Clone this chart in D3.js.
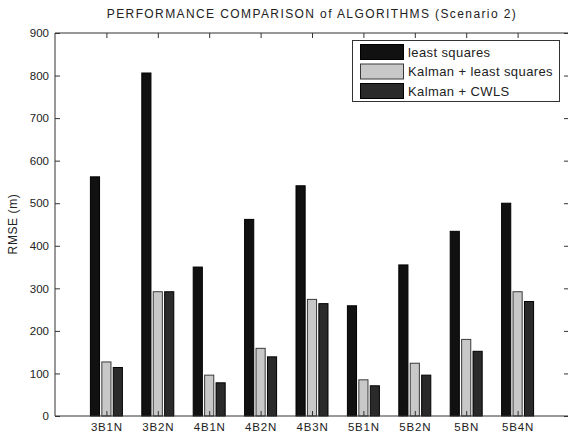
<!DOCTYPE html>
<html>
<head>
<meta charset="utf-8">
<script src="https://cdn.jsdelivr.net/npm/d3@7"></script>
<style>
  html, body { margin: 0; padding: 0; background: #fff; }
  svg text { font-family: "Liberation Sans", Arial, sans-serif; fill: #222; }
</style>
</head>
<body>
<svg id="chart" width="568" height="434"></svg>
<script>
// RMSE per configuration for each positioning algorithm
const categories = ["3B1N", "3B2N", "4B1N", "4B2N", "4B3N", "5B1N", "5B2N", "5BN", "5B4N"];
const leastSquares = [562, 806, 350, 462, 541, 259, 355, 434, 500];
const kalmanLS     = [127, 292, 96, 159, 274, 85, 124, 180, 292];
const kalmanCWLS   = [114, 292, 78, 139, 264, 71, 96, 152, 269];
const seriesNames  = ["least squares", "Kalman + least squares", "Kalman + CWLS"];
const yTicks       = [0, 100, 200, 300, 400, 500, 600, 700, 800, 900];

const series = [leastSquares, kalmanLS, kalmanCWLS];
const fills  = ["#111111", "#c8c8c8", "#2a2a2a"];
const strokes = ["#000000", "#3a3a3a", "#000000"];

const svg = d3.select("#chart");
const plotLeft = 55, plotRight = 569, plotTop = 33, plotBottom = 416;

// x positions in bar-index units: categories sit at 1..9 inside [0, 10]
const x = d3.scaleLinear().domain([0, categories.length + 1]).range([plotLeft, plotRight]);
const y = d3.scaleLinear().domain([0, 900]).range([plotBottom, plotTop]);

const nSeries = series.length;
const groupWidth = Math.min(0.8, nSeries / (nSeries + 1.5));
const slot = groupWidth / nSeries;
const barW = slot * 0.8;

// bars
series.forEach((vals, s) => {
  const offset = -groupWidth / 2 + slot * (s + 0.5);
  svg.append("g").selectAll("rect")
    .data(vals)
    .join("rect")
    .attr("x", (d, i) => x(i + 1 + offset - barW / 2))
    .attr("width", x(barW) - x(0))
    .attr("y", d => y(d))
    .attr("height", d => y(0) - y(d))
    .attr("fill", fills[s])
    .attr("stroke", strokes[s])
    .attr("stroke-width", 1);
});

// axes: box with inward ticks
const tickLen = 5;
const axisColor = "#333";
const xTickVals = categories.map((c, i) => i + 1);

const leftAxis = d3.axisLeft(y).tickValues(yTicks).tickSize(-tickLen).tickPadding(6);
const gL = svg.append("g").attr("transform", `translate(${plotLeft},0)`).call(leftAxis);
const rightAxis = d3.axisRight(y).tickValues(yTicks).tickSize(-tickLen).tickFormat("");
const gR = svg.append("g").attr("transform", `translate(${plotRight},0)`).call(rightAxis);

const bottomAxis = d3.axisBottom(x).tickValues(xTickVals).tickSize(-tickLen)
  .tickFormat((d) => categories[d - 1]).tickPadding(7);
const gB = svg.append("g").attr("transform", `translate(0,${plotBottom})`).call(bottomAxis);
const topAxis = d3.axisTop(x).tickValues(xTickVals).tickSize(-tickLen).tickFormat("");
const gT = svg.append("g").attr("transform", `translate(0,${plotTop})`).call(topAxis);

[gL, gR, gB, gT].forEach(g => {
  g.select(".domain").attr("stroke", axisColor);
  g.selectAll(".tick line").attr("stroke", axisColor);
  g.selectAll("text").style("font-size", "11.5px").attr("fill", "#222");
});
gB.selectAll("text").style("letter-spacing", "0.8px");
gL.select(".domain").attr("d", `M0,${plotBottom}V${plotTop}`);
gR.select(".domain").attr("d", `M0,${plotBottom}V${plotTop}`);
gB.select(".domain").attr("d", `M${plotLeft},0H${plotRight}`);
gT.select(".domain").attr("d", `M${plotLeft},0H${plotRight}`);

// title and axis label
svg.append("text")
  .attr("x", 312).attr("y", 18)
  .attr("text-anchor", "middle")
  .style("font-size", "12px")
  .style("letter-spacing", "1.4px")
  .text("PERFORMANCE COMPARISON of ALGORITHMS (Scenario 2)");

svg.append("text")
  .attr("transform", "translate(17,224) rotate(-90)")
  .attr("text-anchor", "middle")
  .style("font-size", "12px")
  .style("letter-spacing", "0.6px")
  .text("RMSE (m)");

// legend
const lg = svg.append("g");
lg.append("rect")
  .attr("x", 352.5).attr("y", 40.5).attr("width", 207).attr("height", 61)
  .attr("fill", "#fff").attr("stroke", axisColor);
seriesNames.forEach((name, s) => {
  const ry = 44 + s * 19.5;
  lg.append("rect")
    .attr("x", 360.5).attr("y", ry + 0.5).attr("width", 43).attr("height", 15)
    .attr("fill", fills[s]).attr("stroke", strokes[s]);
  lg.append("text")
    .attr("x", 408).attr("y", ry + 12.5)
    .style("font-size", "13px")
    .style("letter-spacing", "0.4px")
    .text(name);
});
</script>
</body>
</html>
